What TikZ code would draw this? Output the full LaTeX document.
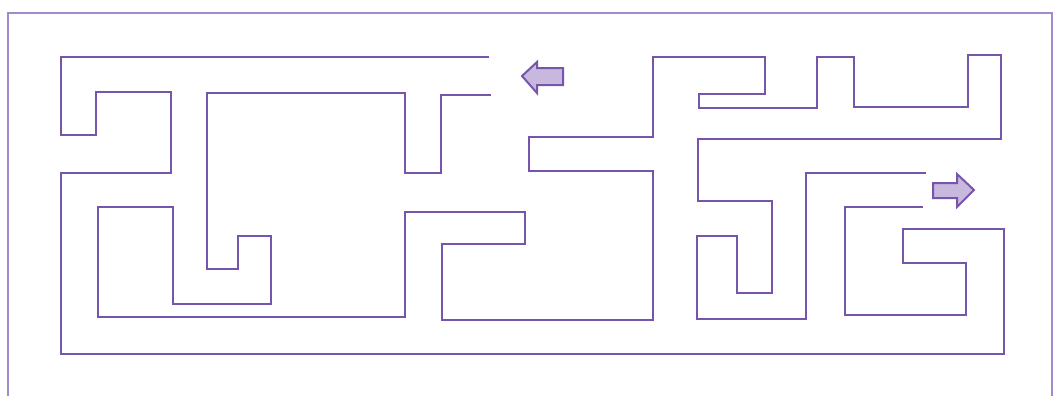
\documentclass[tikz,border=0pt]{standalone}
\definecolor{wallc}{HTML}{7656AC}
\definecolor{framec}{HTML}{A08CCB}
\definecolor{arrowfill}{HTML}{C8B8DE}
\begin{document}
\begin{tikzpicture}[x=0.75pt,y=-0.75pt,
  wall/.style={draw=wallc,line width=1.7pt,line join=miter},
  framestyle/.style={draw=framec,line width=0.8pt},
  arrowshape/.style={draw=wallc,fill=arrowfill,line width=1.5pt,line join=miter}]
\useasboundingbox (0,0) rectangle (1054,396);
% frame
\draw[framestyle] (8,400) -- (8,13) -- (1052,13) -- (1052,400);
% outer wall
\draw[wall] (489,57) -- (61,57) -- (61,135) -- (96,135) -- (96,92) -- (171,92) -- (171,173) -- (61,173) -- (61,354) -- (1004,354) -- (1004,229) -- (903,229) -- (903,263) -- (966,263) -- (966,315) -- (845,315) -- (845,207) -- (923,207);
% inner wall
\draw[wall] (491,95) -- (441,95) -- (441,173) -- (405,173) -- (405,93) -- (207,93) -- (207,269) -- (238,269) -- (238,236) -- (271,236) -- (271,304) -- (173,304) -- (173,207) -- (98,207) -- (98,317) -- (405,317) -- (405,212) -- (525,212) -- (525,244) -- (442,244) -- (442,320) -- (653,320) -- (653,171) -- (529,171) -- (529,137) -- (653,137) -- (653,57) -- (765,57) -- (765,94) -- (699,94) -- (699,108) -- (817,108) -- (817,57) -- (854,57) -- (854,107) -- (968,107) -- (968,55) -- (1001,55) -- (1001,139) -- (698,139) -- (698,201) -- (772,201) -- (772,293) -- (737,293) -- (737,236) -- (697,236) -- (697,319) -- (806,319) -- (806,173) -- (926,173);
% arrows
\draw[arrowshape] (522,76) -- (537,62) -- (537,68) -- (563,68) -- (563,85) -- (537,85) -- (537,93) -- cycle;
\draw[arrowshape] (974,190) -- (957,174) -- (957,183) -- (933,183) -- (933,198) -- (957,198) -- (957,207) -- cycle;
\end{tikzpicture}
\end{document}
